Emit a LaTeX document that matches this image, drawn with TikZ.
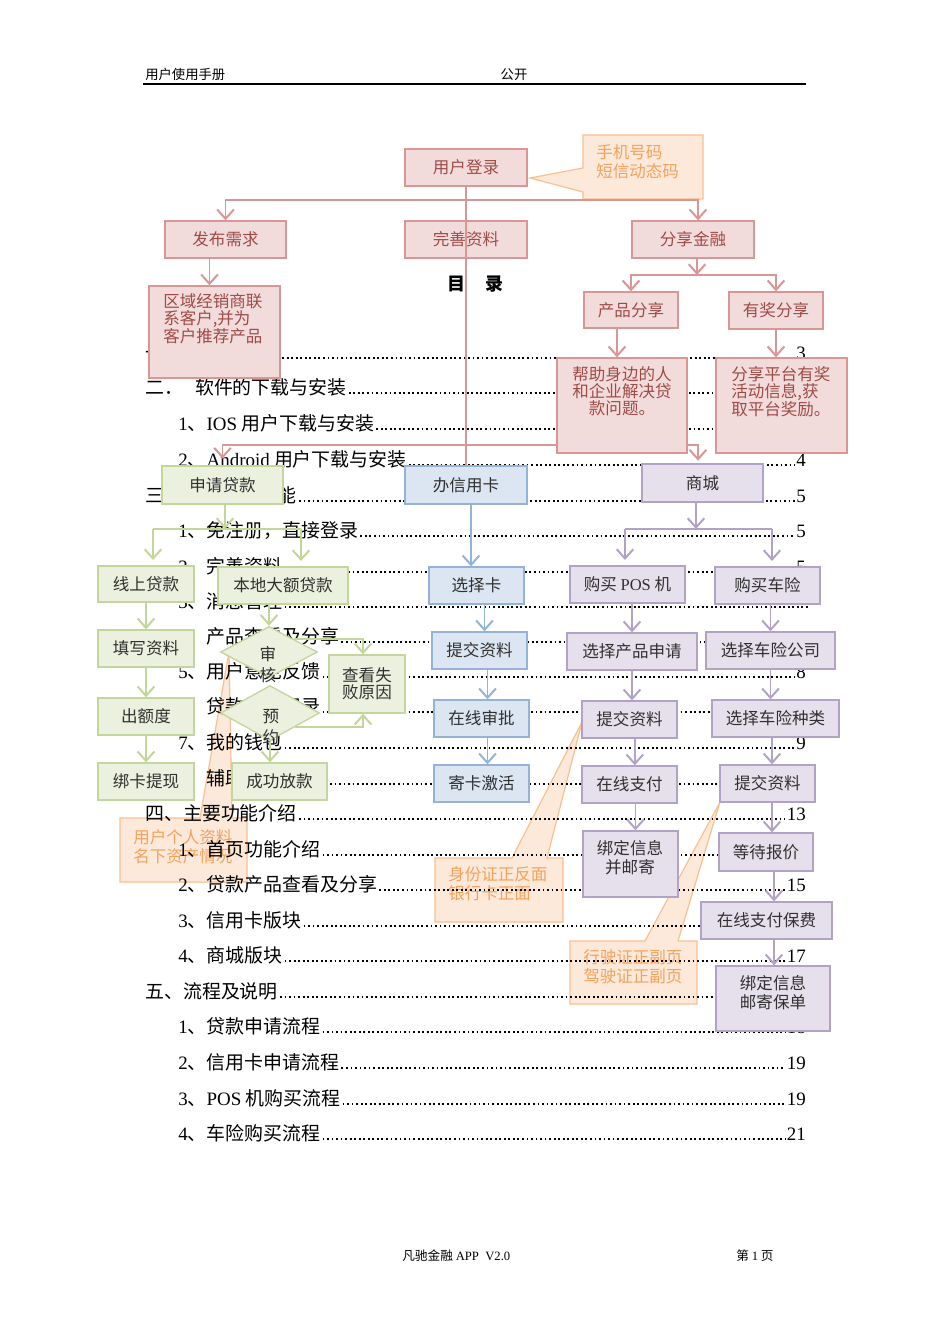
\documentclass[tikz,border=0pt]{standalone}
\usepackage{fontspec}
\setmainfont{Noto Sans CJK SC}
\newfontfamily\lat{Liberation Serif}
\usetikzlibrary{arrows.meta,shapes.geometric}
\pgfdeclarelayer{bglayer}
\pgfdeclarelayer{calloutlayer}
\pgfdeclarelayer{toclayer}
\pgfdeclarelayer{connlayer}
\pgfsetlayers{bglayer,calloutlayer,toclayer,connlayer,main}
\definecolor{pinkF}{HTML}{F2DCDB}
\definecolor{pinkD}{HTML}{D99694}
\definecolor{pinkT}{HTML}{9E4B48}
\definecolor{greenF}{HTML}{EBF1DE}
\definecolor{greenD}{HTML}{C3D69B}
\definecolor{blueF}{HTML}{DCE6F2}
\definecolor{blueD}{HTML}{95B3D7}
\definecolor{purF}{HTML}{E6E0EC}
\definecolor{purD}{HTML}{B3A2C7}
\definecolor{orF}{HTML}{FDE9D9}
\definecolor{orD}{HTML}{FAC090}
\definecolor{orT}{HTML}{F3A25E}
\definecolor{nodeT}{HTML}{303030}
\newcommand\bx[7]{\node[#1, minimum width={(#5-#3)*0.75pt}, minimum height={(#6-#4)*0.75pt}] (#2) at ({(#3+#5)/2},{(#4+#6)/2}) {#7};}
% TOC line with visible page number
\newcommand\tocline[5]{%
  \node[toctext] (#1) at (#2,#3+7) {#4};
  \node[tocpage] (#1p) at (806,#3+7) {#5};
  \draw[leader] ([xshift=1.5pt,yshift=0.7pt]#1.base east) -- ([xshift=-1pt,yshift=0.7pt]#1p.base west);}
% TOC line whose page number lies under a box
\newcommand\toclinehid[4]{%
  \node[toctext] (#1) at (#2,#3+7) {#4};
  \draw[leader] ([xshift=1.5pt,yshift=0.7pt]#1.base east) -- ([xshift=1.5pt,yshift=0.7pt]#1.base east -| rmargin);}
\tikzset{
  toctext/.style={anchor=base west, inner sep=0pt, font=\fontsize{14.2}{16}\selectfont},
  tocpage/.style={anchor=base east, inner sep=0pt, font=\lat\fontsize{14.2}{16}\selectfont},
  leader/.style={line width=1.35pt, dash pattern=on 1.35pt off 2.05pt},
  diagbox/.style={rectangle, inner sep=0pt, line width=1pt, font=\fontsize{12.4}{13}\selectfont, align=center},
  pbox/.style={diagbox, draw=pinkD, fill=pinkF, text=pinkT},
  gbox/.style={diagbox, draw=greenD, fill=greenF, text=nodeT},
  bbox/.style={diagbox, draw=blueD, fill=blueF, text=nodeT},
  ubox/.style={diagbox, draw=purD, fill=purF, text=nodeT},
  gdia/.style={diamond, draw=greenD, fill=greenF, line width=1pt, inner sep=0pt},
  mtext/.style={inner sep=0pt, font=\fontsize{12.4}{12.75}\selectfont},
  ptext/.style={mtext, text=pinkT},
  otext/.style={inner sep=0pt, font=\fontsize{12.4}{14.25}\selectfont, text=orT, align=left, anchor=west},
  callout/.style={fill=orF, draw=orD, line width=0.9pt},
  vtip/.style={-{Straight Barb[length=7pt,width=12.5pt,line width=1.5pt]}},
  pconn/.style={draw=pinkD, line width=1pt},
  gconn/.style={draw=greenD, line width=1.1pt},
  bconn/.style={draw=blueD, line width=1.1pt},
  uconn/.style={draw=purD, line width=1.1pt},
  parr/.style={pconn, vtip},
  garr/.style={gconn, vtip},
  barr/.style={bconn, vtip},
  uarr/.style={uconn, vtip},
}
\begin{document}
\begin{tikzpicture}[x=0.75pt, y=-0.75pt]
\useasboundingbox (0,0) rectangle (950,1344);
\begin{pgfonlayer}{bglayer}
\fill[white] (0,0) rectangle (950,1344);
\end{pgfonlayer}
\coordinate (rmargin) at (806,0);

% ---------------- header / footer ----------------
\node[anchor=base west, inner sep=0pt, font=\fontsize{10}{12}\selectfont] (hdl) at (145,80) {用户使用手册};
\node[anchor=base, inner sep=0pt, font=\fontsize{10}{12}\selectfont] (hdc) at (514,80) {公开};
\draw[line width=1.1pt] (143,84) -- (806,84);
\node[anchor=base west, inner sep=0pt, font=\fontsize{9.5}{12}\selectfont] (ftl) at (402,1260) {凡驰金融 {\lat APP\ \ V2.0}};
\node[anchor=base west, inner sep=0pt, font=\fontsize{9.5}{12}\selectfont] (ftr) at (736,1260) {第 {\lat 1} 页};

% ---------------- callouts (bottom layer) ----------------
\begin{pgfonlayer}{calloutlayer}
\path[callout] (583,135) -- (703,135) -- (703,199) -- (583,199) -- (583,192) -- (530,178) -- (583,168) -- cycle;
\node[otext] (c1) at (596,161.5) {手机号码\\短信动态码};
\path[callout] (120,818) -- (200,818) -- (229,652) -- (232,818) -- (247,818) -- (247,882) -- (120,882) -- cycle;
\node[otext] (c2) at (133,846.5) {用户个人资料\\名下资产情况};
\path[callout] (435,858) -- (512,858) -- (582,722) -- (547,858) -- (563,858) -- (563,922) -- (435,922) -- cycle;
\node[otext] (c3) at (448,884) {身份证正反面\\银行卡正面};
\path[callout] (570,941) -- (645,941) -- (720,802) -- (678,941) -- (697,941) -- (697,1004) -- (570,1004) -- cycle;
\node[otext] (c4) at (583,966.5) {行驶证正副页\\驾驶证正副页};
\end{pgfonlayer}

% ---------------- table of contents ----------------
\begin{pgfonlayer}{toclayer}
\node[anchor=base, inner sep=0pt, font=\fontsize{13.5}{14}\selectfont\bfseries] (mulu) at (475,291) {目\hspace{15pt}录};
\tocline{t1}{145}{352}{一、概述}{3}
\toclinehid{t2}{145}{387}{二．\hspace{9pt}软件的下载与安装}
\toclinehid{t3}{178}{423}{{\lat 1}、{\lat IOS} 用户下载与安装}
\tocline{t4}{178}{459}{{\lat 2}、{\lat Android} 用户下载与安装}{4}
\tocline{t5}{145}{495}{三、软件基本功能}{5}
\tocline{t6}{178}{530}{{\lat 1}、免注册，直接登录}{5}
\tocline{t7}{178}{566}{{\lat 2}、完善资料}{5}
\toclinehid{t8}{178}{601}{{\lat 3}、消息管理}
\toclinehid{t9}{178}{636}{{\lat 4}、产品查看及分享}
\tocline{t10}{178}{671}{{\lat 5}、用户意见反馈}{8}
\toclinehid{t11}{178}{706}{{\lat 6}、贷款申请记录}
\tocline{t12}{178}{742}{{\lat 7}、我的钱包}{9}
\toclinehid{t13}{178}{778}{{\lat 8}、辅助功能}
\tocline{t14}{145}{813}{四、主要功能介绍}{13}
\toclinehid{t15}{178}{849}{{\lat 1}、首页功能介绍}
\tocline{t16}{178}{884}{{\lat 2}、贷款产品查看及分享}{15}
\toclinehid{t17}{178}{920}{{\lat 3}、信用卡版块}
\tocline{t18}{178}{955}{{\lat 4}、商城版块}{17}
\toclinehid{t19}{145}{991}{五、流程及说明}
\tocline{t20}{178}{1026}{{\lat 1}、贷款申请流程}{18}
\tocline{t21}{178}{1062}{{\lat 2}、信用卡申请流程}{19}
\tocline{t22}{178}{1098}{{\lat 3}、{\lat POS} 机购买流程}{19}
\tocline{t23}{178}{1133}{{\lat 4}、车险购买流程}{21}
\end{pgfonlayer}

% ---------------- pink nodes ----------------
\bx{pbox}{login}{405}{149}{527}{186}{用户登录}
\bx{pbox}{fabu}{165}{221}{286}{258}{发布需求}
\bx{pbox}{wanshan}{405}{221}{527}{258}{完善资料}
\bx{pbox}{share}{632}{221}{754}{258}{分享金融}
\bx{pbox}{prodshare}{584}{292}{678}{328}{产品分享}
\bx{pbox}{prizeshare}{729}{292}{823}{329}{有奖分享}
\bx{pbox}{region}{149}{286}{280}{378}{}
\node[ptext, anchor=north west, align=left] (regiont) at (163,293) {区域经销商联\\系客户,并为\\客户推荐产品};
\bx{pbox}{help}{557}{358}{687}{453}{}
\node[ptext, anchor=north, align=center] (helpt) at (622,366) {帮助身边的人\\和企业解决贷\\款问题。};
\bx{pbox}{platform}{716}{358}{847}{453}{}
\node[ptext, anchor=north west, align=left] (platformt) at (731,366) {分享平台有奖\\活动信息,获\\取平台奖励。};

% ---------------- green nodes ----------------
\bx{gbox}{apply}{162}{466}{283}{504}{申请贷款}
\bx{gbox}{online}{98}{566}{194}{602}{线上贷款}
\bx{gbox}{local}{218}{567}{348}{604}{本地大额贷款}
\bx{gbox}{fillin}{98}{630}{194}{667}{填写资料}
\bx{gbox}{quota}{98}{698}{194}{735}{出额度}
\bx{gbox}{bindcard}{98}{763}{194}{800}{绑卡提现}
\bx{gbox}{fail}{329}{655}{405}{713}{查看失\\败原因}
\bx{gbox}{success}{232}{763}{327}{800}{成功放款}
\node[gdia, minimum width={97*0.75pt}, minimum height={51*0.75pt}] (audit) at (269,652) {};
\node[mtext, text=nodeT, align=center, font=\fontsize{12.4}{15.75}\selectfont] (auditt) at (268,665) {审\\核};
\node[gdia, minimum width={99*0.75pt}, minimum height={55*0.75pt}] (reserve) at (270,713) {};
\node[mtext, text=nodeT, align=center, font=\fontsize{12.4}{15.75}\selectfont] (reservet) at (271,727) {预\\约};

% ---------------- blue nodes ----------------
\bx{bbox}{credit}{405}{466}{527}{504}{办信用卡}
\bx{bbox}{choosecard}{429}{567}{524}{604}{选择卡}
\bx{bbox}{submitb}{432}{632}{527}{669}{提交资料}
\bx{bbox}{approve}{434}{700}{529}{737}{在线审批}
\bx{bbox}{activate}{434}{765}{529}{802}{寄卡激活}

% ---------------- purple nodes ----------------
\bx{ubox}{mall}{642}{464}{763}{502}{商城}
\bx{ubox}{buypos}{570}{566}{685}{603}{购买 {\lat POS} 机}
\bx{ubox}{buyins}{715}{567}{820}{604}{购买车险}
\bx{ubox}{choosep}{567}{633}{697}{670}{选择产品申请}
\bx{ubox}{choosec}{706}{632}{835}{669}{选择车险公司}
\bx{ubox}{submitp}{582}{701}{677}{738}{提交资料}
\bx{ubox}{choosek}{712}{700}{839}{737}{选择车险种类}
\bx{ubox}{payp}{582}{766}{677}{803}{在线支付}
\bx{ubox}{submitc}{720}{765}{815}{802}{提交资料}
\bx{ubox}{bindp}{583}{831}{678}{897}{}
\node[mtext, text=nodeT, align=center, font=\fontsize{12.4}{14.25}\selectfont] (bindpt) at (630,857.5) {绑定信息\\并邮寄};
\bx{ubox}{quote}{719}{833}{813}{871}{等待报价}
\bx{ubox}{payins}{701}{902}{832}{939}{在线支付保费}
\bx{ubox}{bindins}{716}{966}{830}{1031}{}
\node[mtext, text=nodeT, align=center, font=\fontsize{12.4}{14.25}\selectfont] (bindinst) at (773,992.5) {绑定信息\\邮寄保单};

% ---------------- connectors ----------------
\coordinate (busA) at (466,200);
\coordinate (busB) at (697,275);
\coordinate (busC) at (466,445);
\coordinate (busD) at (225,529);
\coordinate (busDL) at (153,529);
\coordinate (busDR) at (301,529);
\coordinate (busE) at (696,529);
\coordinate (busEL) at (625,529);
\coordinate (busER) at (772,529);
\begin{pgfonlayer}{connlayer}
% pink
\draw[parr] (busA) -| (fabu.north);
\draw[parr] (busA) -| ([xshift=3.75pt]share.north);
\draw[parr] ([xshift=-12pt]fabu.south) -- ([xshift=-12pt]fabu.south |- region.north);
\draw[parr] (share.south -| busB) -- (busB);
\draw[parr] (busB) -| (prodshare.north);
\draw[parr] (busB) -| (prizeshare.north);
\draw[parr] ([xshift=-10.5pt]prodshare.south) -- ([xshift=-10.5pt]prodshare.south |- help.north);
\draw[parr] (prizeshare.south) -- (prizeshare.south |- platform.north);
\draw[parr, shorten >=5pt] (busC) -| (apply.north);
\draw[parr, shorten >=2pt] (busC) -| ([xshift=-3.4pt]mall.north);
% green
\draw[garr] (apply.south -| busD) -- (busD);
\draw[gconn] (busDL) -- (busDR);
\draw[garr, shorten >=4pt] (busDL) -- (busDL |- online.north);
\draw[garr, shorten >=4pt] (busDR) -- (busDR |- local.north);
\draw[garr] (online) -- (fillin);
\draw[garr] (fillin) -- (quota);
\draw[garr] (quota) -- (bindcard);
\draw[garr] (local.south -| audit.north) -- (audit.north);
\draw[garr] (audit.north east) -| ([xshift=-3pt]fail.north);
\draw[garr] (reserve.south east) -| ([xshift=-3pt]fail.south);
\draw[garr] (reserve.south) -- (reserve.south |- success.north);
% blue
\draw[barr] ([xshift=3.75pt]credit.south) -- ([xshift=3.75pt]credit.south |- choosecard.north);
\draw[barr] ([xshift=6pt]choosecard.south) -- ([xshift=6pt]choosecard.south |- submitb.north);
\draw[barr] ([xshift=4.5pt]approve.north |- submitb.south) -- ([xshift=4.5pt]approve.north);
\draw[barr] ([xshift=4.5pt]approve.south) -- ([xshift=4.5pt]activate.north);
% purple
\draw[uarr] (mall.south -| busE) -- (busE);
\draw[uconn] (busEL) -- (busER);
\draw[uarr, shorten >=4pt] (busEL) -- (busEL |- buypos.north);
\draw[uarr, shorten >=4pt] (busER) -- (busER |- buyins.north);
\draw[uarr] (buypos.south -| choosep.north) -- (choosep.north);
\draw[uarr] (buyins.south -| choosec.north) -- (choosec.north);
\draw[uarr] (choosep.south) -- (choosep.south |- submitp.north);
\draw[uarr] (choosec.south) -- (choosec.south |- choosek.north);
\draw[uarr] ([xshift=4pt]submitp.south) -- ([xshift=4pt]payp.north);
\draw[uarr] ([xshift=4.5pt]payp.south) -- ([xshift=4.5pt]payp.south |- bindp.north);
\draw[uarr] ([xshift=-2.6pt]choosek.south) -- ([xshift=-2.6pt]choosek.south |- submitc.north);
\draw[uarr] ([xshift=3.4pt]submitc.south) -- ([xshift=3.4pt]submitc.south |- quote.north);
\draw[uarr] ([xshift=6pt]quote.south) -- ([xshift=6pt]quote.south |- payins.north);
\draw[uarr] ([xshift=5.6pt]payins.south) -- ([xshift=5.6pt]payins.south |- bindins.north);
\end{pgfonlayer}
% trunk line drawn over the middle box
\draw[pconn] (login.south) -- (credit.north);
\end{tikzpicture}
\end{document}
